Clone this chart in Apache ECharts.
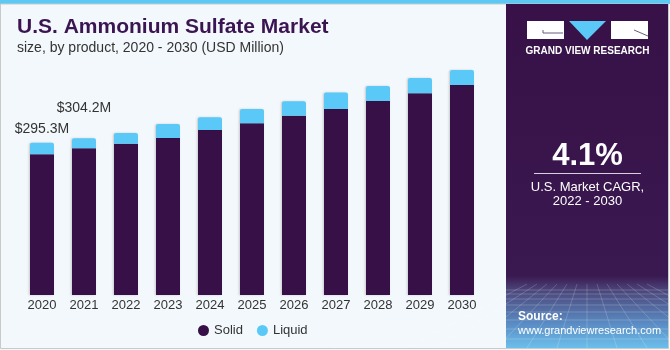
<!DOCTYPE html>
<html>
<head>
<meta charset="utf-8">
<script src="https://cdn.jsdelivr.net/npm/echarts@6/dist/echarts.min.js"></script>
<style>
  html, body { margin: 0; padding: 0; background: #fff; }
  #chart { width: 670px; height: 350px; }
</style>
</head>
<body>
<div id="chart"></div>
<script>
// data (USD Million)
var years = ['2020', '2021', '2022', '2023', '2024', '2025', '2026', '2027', '2028', '2029', '2030'];
var solid = [273.0, 284.8, 293.4, 304.4, 320.0, 333.0, 347.7, 360.7, 376.2, 391.1, 407.2];
var liquid = [22.3, 19.4, 20.7, 27.2, 24.6, 27.7, 27.9, 32.3, 29.1, 29.7, 29.1];
var totalLabels = ['$295.3M', '$304.2M'];
var labelGaps = [7, 23];

var colors = {
  solid: '#371047',
  liquid: '#5bc9f7',
  panel: '#371147',
  text: '#333333',
  title: '#3b1552'
};
var font = 'Liberation Sans, Arial, sans-serif';

var liquidData = liquid.map(function(v, i) {
  if (i < totalLabels.length) {
    return {
      value: v,
      label: {
        show: true,
        position: 'top',
        distance: labelGaps[i],
        formatter: totalLabels[i],
        color: colors.text,
        fontSize: 14,
        fontFamily: font
      }
    };
  }
  return v;
});

// faint perspective grid at the bottom of the side panel (decoration)
var panelLines = [];
var hy = [290, 294, 299, 305, 312, 320, 329, 339];
hy.forEach(function(y) {
  panelLines.push({
    type: 'line', silent: true,
    shape: { x1: 506, y1: y, x2: 668, y2: y },
    style: { stroke: 'rgba(255,255,255,0.2)', lineWidth: 1 }
  });
});
for (var k = -6; k <= 6; k++) {
  panelLines.push({
    type: 'line', silent: true,
    shape: { x1: 587 + k * 10, y1: 284, x2: 587 + k * 30, y2: 348 },
    style: { stroke: 'rgba(255,255,255,0.18)', lineWidth: 1 }
  });
}

var chart = echarts.init(document.getElementById('chart'), null, { renderer: 'canvas' });

var option = {
  backgroundColor: '#f3f8fc',
  animation: false,
  grid: { left: 21, width: 462, top: 63, bottom: 55, containLabel: false },
  legend: {
    left: 198,
    top: 324,
    padding: 0,
    itemWidth: 11,
    itemHeight: 11,
    itemGap: 14,
    icon: 'circle',
    textStyle: { color: colors.text, fontSize: 13, fontFamily: font },
    data: ['Solid', 'Liquid']
  },
  xAxis: {
    type: 'category',
    data: years,
    axisLine: { show: false },
    axisTick: { show: false },
    axisLabel: { color: colors.text, fontSize: 13, fontFamily: font, margin: 4 }
  },
  yAxis: {
    type: 'value',
    min: 0,
    max: 450,
    show: false,
    splitLine: { show: false }
  },
  series: [
    {
      name: 'Solid',
      type: 'bar',
      stack: 'total',
      barWidth: 24,
      data: solid,
      itemStyle: {
        color: colors.solid,
        shadowColor: 'rgba(0,0,0,0.18)',
        shadowBlur: 2,
        shadowOffsetX: -1
      }
    },
    {
      name: 'Liquid',
      type: 'bar',
      stack: 'total',
      barWidth: 24,
      data: liquidData,
      itemStyle: {
        color: colors.liquid,
        borderRadius: [2, 2, 0, 0],
        shadowColor: 'rgba(0,0,0,0.18)',
        shadowBlur: 2,
        shadowOffsetX: -1
      }
    }
  ],
  graphic: [
    // top accent bar
    { type: 'rect', silent: true, shape: { x: 0, y: 0, width: 670, height: 4 }, style: { fill: '#5bc9f3' } },
    // outer border
    { type: 'rect', silent: true, shape: { x: 0.5, y: 4, width: 668, height: 344.5 },
      style: { fill: 'none', stroke: '#c9c9c9', lineWidth: 1 } },
    // title
    { type: 'text', left: 17, top: 17, silent: true,
      style: { text: 'U.S. Ammonium Sulfate Market', fill: colors.title, fontSize: 21, fontWeight: 'bold', fontFamily: font } },
    { type: 'text', left: 17, top: 41, silent: true,
      style: { text: 'size, by product, 2020 - 2030 (USD Million)', fill: colors.text, fontSize: 14, fontFamily: font } },
    // side panel
    { type: 'rect', silent: true, shape: { x: 506, y: 4, width: 162, height: 344 },
      style: {
        fill: new echarts.graphic.LinearGradient(0, 0, 0, 1, [
          { offset: 0, color: '#371147' },
          { offset: 0.79, color: '#3a1850' },
          { offset: 0.83, color: '#4a4478' },
          { offset: 0.93, color: '#5a8cc4' },
          { offset: 1, color: '#6cbfec' }
        ])
      } },
    { type: 'group', silent: true, children: panelLines },
    // logo
    { type: 'rect', silent: true, shape: { x: 527, y: 21, width: 37, height: 18 }, style: { fill: '#ffffff' } },
    { type: 'polyline', silent: true, shape: { points: [[543, 30], [543, 33], [563, 33]] },
      style: { stroke: '#6a5a80', lineWidth: 1, fill: 'none' } },
    { type: 'polygon', silent: true, shape: { points: [[569, 21], [606, 21], [587, 40]] }, style: { fill: '#5bc9f7' } },
    { type: 'rect', silent: true, shape: { x: 611, y: 21, width: 37, height: 18 }, style: { fill: '#ffffff' } },
    { type: 'line', silent: true, shape: { x1: 634, y1: 30, x2: 648, y2: 36 }, style: { stroke: '#6a5a80', lineWidth: 1 } },
    { type: 'text', silent: true, x: 587.5, y: 51, style: {
        text: 'GRAND VIEW RESEARCH', fill: '#ffffff', fontSize: 10, fontWeight: 'bold', fontFamily: font,
        align: 'center', verticalAlign: 'middle' } },
    // CAGR
    { type: 'text', silent: true, x: 587.5, y: 156, style: {
        text: '4.1%', fill: '#ffffff', fontSize: 31, fontWeight: 'bold', fontFamily: font,
        align: 'center', verticalAlign: 'middle' } },
    { type: 'line', silent: true, shape: { x1: 534, y1: 173.5, x2: 641, y2: 173.5 }, style: { stroke: '#d8d0e0', lineWidth: 1 } },
    { type: 'text', silent: true, x: 587.5, y: 187, style: {
        text: 'U.S. Market CAGR,', fill: '#ffffff', fontSize: 13, fontFamily: font,
        align: 'center', verticalAlign: 'middle' } },
    { type: 'text', silent: true, x: 587.5, y: 201, style: {
        text: '2022 - 2030', fill: '#ffffff', fontSize: 13, fontFamily: font,
        align: 'center', verticalAlign: 'middle' } },
    // source
    { type: 'text', silent: true, x: 518, y: 317, style: {
        text: 'Source:', fill: '#ffffff', fontSize: 12, fontWeight: 'bold', fontFamily: font,
        verticalAlign: 'middle' } },
    { type: 'text', silent: true, x: 518, y: 331, style: {
        text: 'www.grandviewresearch.com', fill: '#ffffff', fontSize: 11, fontFamily: font,
        verticalAlign: 'middle' } }
  ]
};

chart.setOption(option);
</script>
</body>
</html>
